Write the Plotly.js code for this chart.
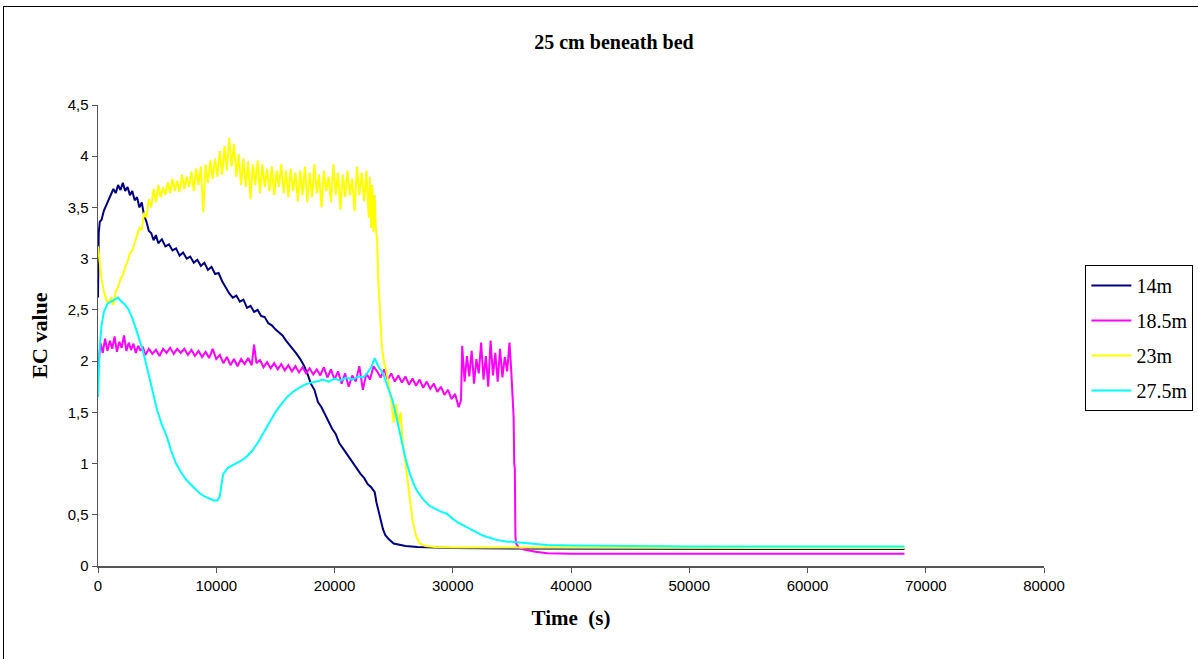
<!DOCTYPE html>
<html>
<head>
<meta charset="utf-8">
<script src="https://cdn.plot.ly/plotly-3.0.1.min.js"></script>
<style>
  html, body { margin:0; padding:0; width:1198px; height:659px; overflow:hidden; background:#fff; }
  #chart { width:1198px; height:659px; }
  #frame { position:absolute; left:3px; top:6px; width:1300px; height:800px; border:1px solid #000; pointer-events:none; }
</style>
</head>
<body>
<div id="chart"></div>
<div id="frame"></div>
<script>
// ---- Data ----
const seriesNames = ["14m", "18.5m", "23m", "27.5m"];
const seriesColors = ["#000080", "#FF00FF", "#FFFF00", "#00FFFF"];

const t14 = [0,60,150,300,500,700,900,1100,1300,1500,1700,1900,2100,2300,2500,2700,2900,3100,3300,3500,3700,3900,4100,4300,4500,4700,4900,5100,5400,5700,6000,6300,6600,6900,7200,7500,7800,8100,8400,8700,9000,9300,9600,9900,10200,10500,10800,11100,11400,11700,12000,12300,12600,12900,13200,13500,13800,14100,14400,14700,15000,15300,15600,15900,16200,16500,16800,17100,17400,17700,18000,18300,18600,18900,19200,19500,19800,20100,20400,20700,21000,21300,21600,21900,22200,22500,22800,23100,23400,23550,23700,23900,24100,24300,24600,25000,25500,26000,27000,28000,30000,35000,40000,50000,60000,68200];
const v14 = [2.62,3.25,3.36,3.38,3.47,3.52,3.58,3.62,3.68,3.64,3.72,3.67,3.74,3.66,3.70,3.62,3.66,3.57,3.60,3.50,3.55,3.42,3.36,3.27,3.25,3.18,3.23,3.15,3.19,3.12,3.14,3.08,3.10,3.03,3.06,3.00,3.02,2.96,2.99,2.93,2.96,2.89,2.92,2.85,2.86,2.78,2.72,2.66,2.62,2.64,2.58,2.60,2.52,2.54,2.48,2.50,2.44,2.43,2.37,2.35,2.31,2.28,2.25,2.20,2.16,2.12,2.07,2.02,1.96,1.88,1.78,1.72,1.60,1.55,1.48,1.42,1.34,1.29,1.20,1.15,1.10,1.04,0.99,0.95,0.90,0.86,0.80,0.77,0.72,0.62,0.55,0.44,0.36,0.30,0.26,0.22,0.205,0.195,0.185,0.18,0.175,0.17,0.17,0.17,0.165,0.165];

const t185 = [0,100,200,400,600,800,1000,1200,1400,1600,1800,2000,2200,2400,2600,2800,3000,3200,3400,3600,3800,4000,4300,4600,4900,5200,5500,5800,6100,6400,6700,7000,7300,7600,7900,8200,8500,8800,9100,9400,9700,10000,10300,10600,10900,11200,11500,11800,12100,12400,12700,13000,13200,13400,13700,14000,14300,14600,14900,15200,15500,15800,16100,16400,16700,17000,17300,17600,17900,18200,18500,18800,19100,19400,19700,20000,20300,20600,20900,21200,21500,21800,22100,22400,22700,23000,23300,23600,23900,24200,24500,24800,25100,25400,25700,26000,26300,26600,26900,27200,27500,27800,28100,28400,28700,29000,29300,29600,29900,30200,30500,30700,30800,31000,31200,31400,31600,31800,32000,32200,32400,32600,32800,33000,33200,33400,33600,33800,34000,34200,34400,34600,34800,34950,35050,35150,35200,35250,35300,35350,35600,36000,37000,38000,40000,50000,60000,68200];
const v185 = [1.90,2.10,2.18,2.08,2.22,2.10,2.20,2.12,2.24,2.09,2.19,2.13,2.25,2.10,2.18,2.11,2.17,2.08,2.15,2.10,2.14,2.06,2.12,2.07,2.11,2.05,2.12,2.08,2.13,2.07,2.12,2.08,2.12,2.06,2.11,2.05,2.10,2.04,2.09,2.03,2.12,2.02,2.06,1.98,2.04,1.96,2.02,1.95,2.02,1.97,2.03,1.96,2.16,1.98,2.01,1.94,1.99,1.93,1.98,1.92,1.97,1.91,1.96,1.90,1.95,1.89,1.94,1.88,1.93,1.87,1.92,1.86,1.94,1.84,1.92,1.82,1.90,1.78,1.88,1.75,1.86,1.80,1.95,1.72,1.88,1.82,1.95,1.90,1.84,1.92,1.82,1.88,1.80,1.86,1.79,1.85,1.77,1.83,1.76,1.82,1.74,1.80,1.73,1.78,1.70,1.75,1.67,1.72,1.63,1.68,1.55,1.62,2.15,1.80,2.05,1.85,2.10,1.78,2.02,1.88,2.18,1.82,2.05,1.75,2.20,1.86,2.08,1.80,2.12,1.84,2.04,1.90,2.18,1.90,1.62,1.45,1.00,0.95,0.30,0.22,0.18,0.16,0.14,0.125,0.12,0.12,0.12,0.12];

const t23 = [0,150,300,500,700,900,1100,1300,1500,1700,1900,2100,2300,2500,2700,2900,3100,3300,3500,3700,3900,4100,4300,4500,4700,4900,5100,5300,5500,5700,5900,6100,6300,6500,6700,6900,7100,7300,7500,7700,7900,8100,8300,8500,8700,8900,9100,9300,9500,9700,9900,10100,10300,10500,10700,10900,11100,11300,11500,11700,11900,12100,12300,12500,12700,12900,13100,13300,13500,13700,13900,14100,14300,14500,14700,14900,15100,15300,15500,15700,15900,16100,16300,16500,16700,16900,17100,17300,17500,17700,17900,18100,18300,18500,18700,18900,19100,19300,19500,19700,19900,20100,20300,20500,20700,20900,21100,21300,21500,21700,21900,22100,22300,22500,22700,22900,23000,23100,23200,23300,23400,23500,23600,23700,23850,24000,24200,24400,24600,24800,25000,25200,25400,25600,25750,25900,26050,26200,26350,26600,26900,27200,27700,28500,30000,35000,40000,50000,60000,68200];
const v23 = [3.12,2.95,2.80,2.68,2.60,2.56,2.62,2.55,2.68,2.72,2.80,2.84,2.92,2.97,3.05,3.08,3.16,3.22,3.30,3.28,3.45,3.40,3.58,3.50,3.68,3.55,3.72,3.60,3.70,3.62,3.75,3.64,3.78,3.66,3.76,3.65,3.82,3.68,3.80,3.70,3.85,3.66,3.88,3.72,3.90,3.45,3.92,3.74,3.96,3.78,3.98,3.80,4.05,3.82,4.10,3.86,4.18,3.90,4.12,3.80,4.02,3.72,3.98,3.70,3.95,3.58,3.92,3.72,3.96,3.64,3.92,3.70,3.88,3.66,3.90,3.62,3.86,3.70,3.92,3.64,3.86,3.60,3.88,3.66,3.84,3.56,3.86,3.62,3.90,3.55,3.84,3.60,3.92,3.64,3.82,3.50,3.86,3.66,3.80,3.55,3.92,3.62,3.84,3.48,3.82,3.60,3.86,3.62,3.78,3.46,3.90,3.62,3.84,3.56,3.86,3.40,3.80,3.30,3.72,3.26,3.62,3.28,3.20,2.80,2.40,2.15,1.98,1.90,1.75,1.62,1.40,1.58,1.38,1.50,1.23,1.10,0.94,0.80,0.68,0.45,0.29,0.22,0.195,0.185,0.18,0.18,0.178,0.175,0.175,0.175];

const t275 = [0,60,150,300,500,800,1100,1400,1700,2000,2300,2600,2900,3200,3500,3800,4100,4400,4700,5000,5400,5800,6200,6600,7000,7400,7800,8200,8600,9000,9400,9800,10100,10300,10450,10600,11000,11500,12000,12500,13000,13500,14000,14500,15000,15500,16000,16500,17000,17500,18000,18500,19000,19500,20000,20500,21000,21500,22000,22400,22700,23100,23400,23700,24100,24500,24900,25300,25700,26000,26350,26700,27000,27500,28000,28500,29000,29500,30000,30500,31000,31500,32000,32500,33000,33700,34500,35400,36500,38000,40000,45000,50000,60000,68200];
const v275 = [1.65,1.95,2.15,2.35,2.48,2.56,2.58,2.60,2.62,2.58,2.55,2.50,2.42,2.32,2.22,2.10,1.96,1.82,1.66,1.52,1.38,1.27,1.12,1.00,0.92,0.85,0.80,0.75,0.71,0.68,0.66,0.64,0.64,0.68,0.80,0.90,0.96,0.99,1.02,1.06,1.12,1.20,1.30,1.40,1.50,1.58,1.65,1.70,1.74,1.77,1.79,1.80,1.82,1.80,1.83,1.81,1.84,1.82,1.85,1.84,1.87,1.94,2.03,1.95,1.88,1.75,1.62,1.42,1.22,1.05,0.91,0.80,0.73,0.65,0.59,0.56,0.53,0.51,0.46,0.42,0.39,0.36,0.33,0.30,0.28,0.255,0.24,0.23,0.215,0.205,0.20,0.195,0.19,0.19,0.19];

const xTickVals = [0,10000,20000,30000,40000,50000,60000,70000,80000];
const xTickText = ["0","10000","20000","30000","40000","50000","60000","70000","80000"];
const yTickVals = [0,0.5,1,1.5,2,2.5,3,3.5,4,4.5];
const yTickText = ["0","0,5","1","1,5","2","2,5","3","3,5","4","4,5"];

const xs = [t14, t185, t23, t275];
const ys = [v14, v185, v23, v275];

const traces = seriesNames.map((n, i) => ({
  type: "scatter",
  mode: "lines",
  name: n,
  legendgroup: n,
  x: xs[i],
  y: ys[i],
  line: { color: seriesColors[i], width: 2 }
}));

const serif = "'Liberation Serif', 'Times New Roman', serif";
const sans = "'Liberation Sans', Arial, sans-serif";

const layout = {
  width: 1198,
  height: 659,
  paper_bgcolor: "#fff",
  plot_bgcolor: "#fff",
  margin: { l: 98, r: 154, t: 105, b: 93, autoexpand: false },
  showlegend: true,
  title: {
    text: "<b>25 cm beneath bed</b>",
    font: { family: serif, size: 20, color: "#000" },
    x: 0.5125, xanchor: "center",
    y: 0.936, yanchor: "middle"
  },
  xaxis: {
    range: [0, 80000],
    tickvals: xTickVals,
    ticktext: xTickText,
    tickfont: { family: sans, size: 15, color: "#000" },
    ticks: "outside", ticklen: 5, tickcolor: "#555", tickwidth: 1,
    showline: true, linecolor: "#555", linewidth: 1.5,
    showgrid: false, zeroline: false,
    title: { text: "<b>Time  (s)</b>", font: { family: serif, size: 21, color: "#000" }, standoff: 18 }
  },
  yaxis: {
    range: [0, 4.5],
    tickvals: yTickVals,
    ticktext: yTickText,
    tickfont: { family: sans, size: 15, color: "#000" },
    ticks: "outside", ticklen: 5, tickcolor: "#555", tickwidth: 1,
    showline: true, linecolor: "#555", linewidth: 1.5,
    showgrid: false, zeroline: false,
    title: { text: "<b>EC value</b>", font: { family: serif, size: 22, color: "#000" }, standoff: 14 }
  },
  legend: {
    xref: "container", yref: "container",
    x: 0.906, xanchor: "left",
    y: 0.598, yanchor: "top",
    bordercolor: "#000", borderwidth: 1,
    bgcolor: "#fff",
    font: { family: serif, size: 20, color: "#000" },
    traceorder: "grouped",
    tracegroupgap: 6,
    itemwidth: 40
  }
};

Plotly.newPlot("chart", traces, layout, { staticPlot: true, displayModeBar: false });
</script>
</body>
</html>
